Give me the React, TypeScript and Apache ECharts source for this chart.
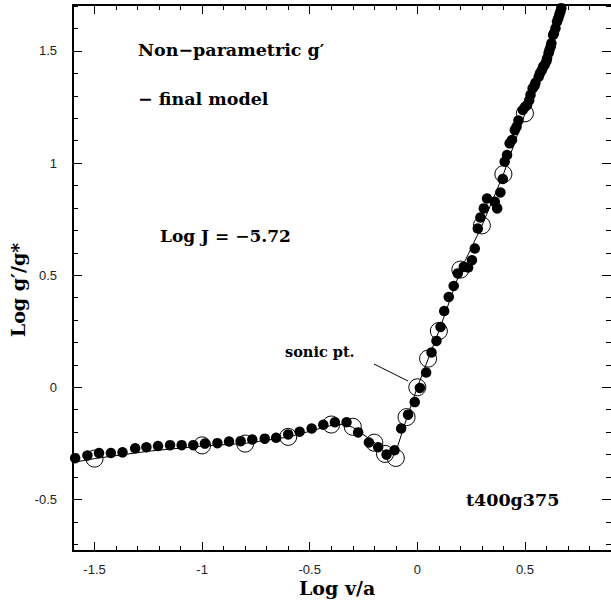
import React, { useEffect, useRef } from "react";
import * as echarts from "echarts";

const xMajor = [-1.5, -1, -0.5, 0, 0.5];
const yMajor = [-0.5, 0, 0.5, 1, 1.5];
const xMinor = [-1.6, -1.5, -1.4, -1.3, -1.2, -1.1, -1.0, -0.9, -0.8, -0.7, -0.6, -0.5, -0.4, -0.3, -0.2, -0.1, 0, 0.1, 0.2, 0.3, 0.4, 0.5, 0.6, 0.7, 0.8, 0.9];
const yMinor = [-0.7, -0.6, -0.5, -0.4, -0.3, -0.2, -0.1, 0, 0.1, 0.2, 0.3, 0.4, 0.5, 0.6, 0.7, 0.8, 0.9, 1.0, 1.1, 1.2, 1.3, 1.4, 1.5, 1.6, 1.7];

// model curve
const modelX = [-1.6, -1.5, -1.25, -1.0, -0.8, -0.6, -0.4, -0.35, -0.3, -0.2, -0.15, -0.1, -0.05, 0, 0.05, 0.1, 0.2, 0.3, 0.4, 0.5, 0.6, 0.7];
const modelY = [-0.335, -0.318, -0.285, -0.262, -0.25, -0.222, -0.17, -0.165, -0.178, -0.245, -0.29, -0.288, -0.14, 0.0, 0.125, 0.25, 0.52, 0.72, 0.95, 1.22, 1.47, 1.78];

// open circles (model nodes)
const nodeX = [-1.5, -1.0, -0.8, -0.6, -0.4, -0.3, -0.2, -0.15, -0.1, -0.05, 0, 0.05, 0.1, 0.2, 0.3, 0.4, 0.5];
const nodeY = [-0.318, -0.259, -0.251, -0.221, -0.166, -0.176, -0.247, -0.297, -0.315, -0.133, 0.0, 0.128, 0.251, 0.525, 0.722, 0.951, 1.222];

// filled dots (observations)
const obsX = [
  -1.59, -1.533, -1.479, -1.424, -1.37, -1.311, -1.259, -1.205, -1.149, -1.095, -1.041, -0.987, -0.929, -0.875,
  -0.821, -0.767, -0.709, -0.656, -0.6, -0.547, -0.491, -0.437, -0.383, -0.329, -0.275, -0.225, -0.182, -0.143,
  -0.106, -0.075, -0.043, -0.012, 0.012, 0.041, 0.066, 0.089, 0.108, 0.125, 0.146, 0.169, 0.188, 0.216, 0.236,
  0.254, 0.267, 0.281, 0.293, 0.309, 0.324, 0.36, 0.371, 0.386, 0.397, 0.406, 0.417, 0.429, 0.44, 0.453, 0.461,
  0.47, 0.49, 0.5, 0.51, 0.52, 0.526, 0.536, 0.545, 0.549, 0.564, 0.57, 0.579, 0.585, 0.592, 0.6, 0.603, 0.61,
  0.614, 0.62, 0.623, 0.631, 0.635, 0.642, 0.649, 0.655, 0.66, 0.665, 0.669, 0.677,
];
const obsY = [
  -0.316, -0.304, -0.293, -0.293, -0.29, -0.272, -0.267, -0.262, -0.258, -0.258, -0.258, -0.251, -0.249, -0.242,
  -0.24, -0.233, -0.229, -0.225, -0.21, -0.198, -0.184, -0.167, -0.156, -0.156, -0.201, -0.246, -0.267, -0.3,
  -0.281, -0.184, -0.122, -0.066, -0.003, 0.066, 0.155, 0.207, 0.269, 0.34, 0.403, 0.452, 0.508, 0.537, 0.534,
  0.567, 0.619, 0.708, 0.757, 0.798, 0.842, 0.827, 0.798, 0.869, 0.929, 1.006, 1.036, 1.088, 1.103, 1.147, 1.162,
  1.19, 1.237, 1.25, 1.259, 1.28, 1.304, 1.333, 1.345, 1.358, 1.385, 1.4, 1.415, 1.43, 1.438, 1.455, 1.467, 1.49,
  1.504, 1.52, 1.534, 1.571, 1.58, 1.601, 1.631, 1.645, 1.661, 1.675, 1.691, 1.72,
];

const serif = "'DejaVu Serif', serif";
const sans = "'Liberation Sans', Arial, sans-serif";

export default function App() {
  const ref = useRef<HTMLDivElement>(null);
  useEffect(() => {
    if (!ref.current) return;
    const chart = echarts.init(ref.current, undefined, { renderer: "svg" });
    const fmt = (v: number) => String(Math.round(v * 10) / 10);
    const mkX = (pos: "top" | "bottom", major: boolean, labels: boolean) => ({
      type: "value",
      position: pos,
      min: -1.6,
      max: 0.9,
      axisLine: { show: major, onZero: false, lineStyle: { color: "#000", width: 2 } },
      splitLine: { show: false },
      axisTick: {
        show: true,
        inside: true,
        length: major ? 9 : 5,
        customValues: major ? xMajor : xMinor,
        lineStyle: { color: "#000", width: 1 },
      },
      axisLabel: {
        show: labels,
        customValues: xMajor,
        formatter: fmt,
        color: "#222",
        fontFamily: sans,
        fontSize: 13,
        margin: 12,
      },
    });
    const mkY = (pos: "left" | "right", major: boolean, labels: boolean) => ({
      type: "value",
      position: pos,
      min: -0.73,
      max: 1.705,
      axisLine: { show: major && pos === "left", onZero: false, lineStyle: { color: "#000", width: 2 } },
      splitLine: { show: false },
      axisTick: {
        show: true,
        inside: true,
        length: major ? 9 : 5,
        customValues: major ? yMajor : yMinor,
        lineStyle: { color: "#000", width: 1 },
      },
      axisLabel: {
        show: labels,
        customValues: yMajor,
        formatter: fmt,
        color: "#222",
        fontFamily: sans,
        fontSize: 13,
        margin: 16,
      },
    });
    const option: any = {
      animation: false,
      backgroundColor: "#fff",
      grid: { left: 73, top: 5, width: 539, bottom: 52 },
      xAxis: [mkX("bottom", true, true), mkX("bottom", false, false), mkX("top", true, false), mkX("top", false, false)],
      yAxis: [mkY("left", true, true), mkY("left", false, false), mkY("right", true, false), mkY("right", false, false)],
      series: [
        {
          type: "line",
          data: modelX.map((x, i) => [x, modelY[i]]),
          showSymbol: false,
          symbol: "none",
          lineStyle: { color: "#000", width: 1 },
          clip: true,
          z: 1,
        },
        {
          type: "scatter",
          data: nodeX.map((x, i) => [x, nodeY[i]]),
          symbol: "circle",
          symbolSize: 17,
          itemStyle: { color: "none", borderColor: "#000", borderWidth: 1, opacity: 1 },
          z: 2,
        },
        {
          type: "scatter",
          data: obsX.map((x, i) => [x, obsY[i]]),
          symbol: "circle",
          symbolSize: 10.5,
          itemStyle: { color: "#000", opacity: 1 },
          z: 3,
        },
      ],
      graphic: [
        { type: "text", left: 138, top: 41, style: { text: "Non−parametric g′", font: `bold 17.5px ${serif}`, fill: "#000" } },
        { type: "text", left: 138, top: 90, style: { text: "− final model", font: `bold 17.5px ${serif}`, fill: "#000" } },
        { type: "text", left: 160, top: 227, style: { text: "Log J = −5.72", font: `bold 17px ${serif}`, fill: "#000" } },
        { type: "text", left: 466, top: 491, style: { text: "t400g375", font: `bold 17.5px ${serif}`, fill: "#000" } },
        { type: "text", left: 285, top: 344, style: { text: "sonic pt.", font: `bold 14.5px ${serif}`, fill: "#000" } },
        { type: "line", shape: { x1: 374, y1: 364, x2: 408, y2: 381 }, style: { stroke: "#000", lineWidth: 1 } },
        { type: "text", left: 299, top: 578, style: { text: "Log v/a", font: `bold 19px ${serif}`, fill: "#000" } },
        {
          type: "text",
          x: 18,
          y: 290,
          rotation: Math.PI / 2,
          style: { text: "Log g′/g*", font: `bold 19px ${serif}`, fill: "#000", align: "center", verticalAlign: "middle" },
        },
      ],
    };
    chart.setOption(option);
    return () => chart.dispose();
  }, []);
  return <div ref={ref} style={{ position: "fixed", left: 0, top: 0, width: 611, height: 603 }} />;
}
